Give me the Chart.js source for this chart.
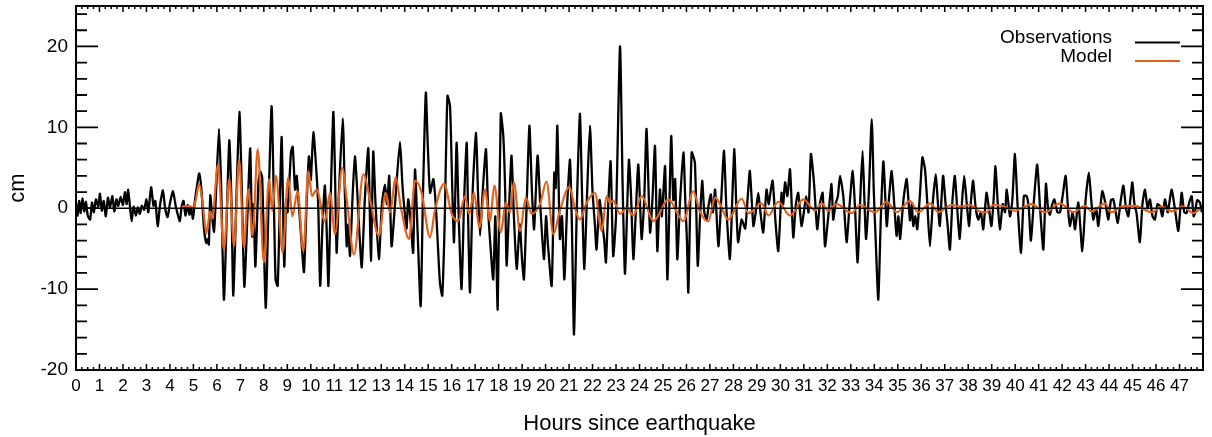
<!DOCTYPE html>
<html>
<head>
<meta charset="utf-8">
<script src="https://cdn.jsdelivr.net/npm/chart.js@4.4.1/dist/chart.umd.min.js"></script>
<style>
  html, body { margin: 0; padding: 0; background: #fff; }
  #wrap { width: 1212px; height: 437px; }
</style>
</head>
<body>
<div id="wrap"><canvas id="c" width="1212" height="437"></canvas></div>
<script>
const seriesLabels = ['Observations', 'Model'];
const seriesColors = ['#000000', '#e4621b'];
const xTitle = 'Hours since earthquake';
const yTitle = 'cm';
const xMin = 0, xMax = 48, yMin = -20, yMax = 25;

const obsHours = [
  0.00,0.07,0.13,0.20,0.27,0.35,0.42,0.50,0.60,0.68,
  0.76,0.85,0.95,1.02,1.10,1.18,1.27,1.36,1.45,1.55,
  1.63,1.72,1.80,1.90,2.00,2.08,2.16,2.22,2.30,2.37,
  2.45,2.55,2.63,2.72,2.80,2.90,3.00,3.08,3.20,3.30,
  3.38,3.48,3.58,3.70,3.80,3.90,4.00,4.13,4.25,4.32,
  4.42,4.50,4.58,4.66,4.75,4.83,4.90,4.98,5.06,5.14,
  5.25,5.35,5.45,5.55,5.62,5.66,5.72,5.80,5.88,5.98,
  6.09,6.18,6.30,6.42,6.53,6.62,6.70,6.84,6.96,7.06,
  7.17,7.30,7.42,7.50,7.56,7.64,7.77,7.85,7.93,8.08,
  8.20,8.33,8.42,8.50,8.59,8.68,8.76,8.87,8.95,9.01,
  9.10,9.16,9.23,9.33,9.40,9.47,9.60,9.71,9.82,9.92,
  10.00,10.11,10.25,10.32,10.40,10.50,10.60,10.68,10.75,10.85,
  10.96,11.04,11.10,11.20,11.36,11.45,11.53,11.60,11.67,11.78,
  11.88,11.98,12.07,12.17,12.30,12.45,12.56,12.66,12.75,12.90,
  13.03,13.16,13.25,13.34,13.44,13.55,13.65,13.80,13.90,14.00,
  14.08,14.15,14.25,14.36,14.44,14.55,14.68,14.78,14.90,14.98,
  15.08,15.22,15.32,15.40,15.50,15.60,15.70,15.82,15.93,16.02,
  16.10,16.21,16.30,16.42,16.53,16.64,16.70,16.78,16.90,17.04,
  17.12,17.21,17.32,17.46,17.55,17.66,17.77,17.86,17.96,18.09,
  18.20,18.28,18.34,18.45,18.55,18.65,18.77,18.90,19.00,19.08,
  19.20,19.31,19.42,19.51,19.66,19.78,19.93,20.02,20.10,20.26,
  20.37,20.43,20.50,20.61,20.70,20.80,20.92,21.04,21.12,21.21,
  21.33,21.46,21.56,21.65,21.77,21.89,22.00,22.10,22.17,22.30,
  22.40,22.50,22.57,22.67,22.77,22.88,23.00,23.17,23.28,23.38,
  23.48,23.55,23.64,23.74,23.85,23.95,24.09,24.20,24.30,24.45,
  24.55,24.66,24.76,24.87,24.95,25.09,25.19,25.35,25.44,25.52,
  25.61,25.72,25.87,25.95,26.02,26.08,26.22,26.36,26.48,26.58,
  26.67,26.76,26.86,26.95,27.04,27.13,27.22,27.36,27.48,27.60,
  27.70,27.85,27.95,28.04,28.12,28.20,28.35,28.50,28.60,28.70,
  28.85,28.95,29.06,29.15,29.27,29.41,29.50,29.58,29.67,29.80,
  29.91,30.05,30.12,30.20,30.30,30.41,30.55,30.66,30.76,30.90,
  31.00,31.10,31.20,31.30,31.43,31.57,31.68,31.80,31.90,32.04,
  32.18,32.25,32.35,32.45,32.54,32.68,32.82,32.95,33.08,33.18,
  33.29,33.40,33.50,33.58,33.65,33.77,33.89,33.98,34.06,34.17,
  34.28,34.39,34.53,34.62,34.74,34.85,34.95,35.03,35.10,35.24,
  35.38,35.52,35.60,35.66,35.75,35.83,35.95,36.05,36.16,36.25,
  36.37,36.50,36.62,36.70,36.79,36.93,37.05,37.12,37.22,37.33,
  37.43,37.53,37.64,37.73,37.83,37.94,38.04,38.12,38.21,38.32,
  38.43,38.54,38.64,38.78,38.88,38.99,39.09,39.16,39.25,39.35,
  39.47,39.57,39.64,39.78,39.88,39.99,40.10,40.25,40.37,40.49,
  40.58,40.67,40.80,40.94,41.06,41.20,41.31,41.40,41.48,41.58,
  41.67,41.80,41.91,42.02,42.15,42.25,42.33,42.45,42.55,42.69,
  42.86,43.00,43.14,43.24,43.33,43.45,43.54,43.71,43.85,43.97,
  44.08,44.18,44.28,44.37,44.50,44.61,44.72,44.82,44.92,44.99,
  45.08,45.17,45.31,45.42,45.53,45.64,45.74,45.85,45.95,46.06,
  46.16,46.27,46.38,46.50,46.66,46.80,46.95,47.09,47.20,47.30,
  47.42,47.52,47.60,47.66,47.75,47.87,47.95
];
const obsValues = [
  0.6,-0.9,0.9,-0.6,1.2,-0.4,0.8,-0.9,-1.4,0.7,
  -0.5,1.1,0.2,1.8,-0.3,0.9,-1.0,1.3,0.1,1.5,
  -0.4,1.1,0.3,1.4,0.4,2.0,0.5,2.3,0.2,-1.6,
  0.2,-0.9,0.1,-0.7,0.3,-0.2,1.1,-0.5,2.6,0.3,
  0.9,-2.2,0.4,2.2,-0.1,-1.1,0.6,2.1,0.2,-0.6,
  -1.6,0.2,0.9,-0.9,0.4,-0.8,0.1,-1.3,0.8,2.5,
  4.3,2.0,-2.5,-4.3,-3.8,-4.5,1.6,-1.2,-2.9,3.0,
  9.8,3.0,-11.3,-1.0,8.4,1.0,-10.8,2.0,11.9,2.5,
  -9.7,-1.0,7.4,-3.5,0.5,-7.2,3.2,4.5,3.8,-12.3,
  0.5,12.6,2.0,-8.8,-9.6,0.5,8.8,-7.2,1.0,-0.5,
  4.0,7.0,7.6,2.3,4.0,1.2,-4.0,-7.9,0.5,6.4,
  3.5,9.4,4.0,0.0,-9.6,-2.0,2.8,-3.0,-9.6,1.5,
  11.9,3.0,-5.5,2.0,11.1,2.0,-4.7,-2.0,-5.9,1.5,
  6.4,2.0,-3.0,-7.3,1.0,7.4,-6.5,7.0,1.0,-6.3,
  0.5,2.9,0.5,4.0,-4.7,-1.0,3.0,8.2,3.0,-0.5,
  -2.5,1.1,-1.5,-5.5,4.8,-3.0,-12.1,2.0,14.3,8.0,
  1.9,3.6,0.5,-3.8,-9.2,-10.8,-2.0,13.9,12.6,3.0,
  -4.2,8.1,-1.0,-10.0,1.0,8.1,-1.0,-10.4,2.5,9.3,
  2.0,-3.4,2.0,7.3,0.0,-5.0,-8.8,-1.0,-12.5,11.7,
  8.9,2.0,-7.1,0.5,6.5,-1.0,-7.5,-2.0,-6.5,-8.8,
  1.0,10.2,2.0,-2.6,6.5,0.0,-6.3,-1.0,-4.5,-9.6,
  4.4,2.5,10.2,-3.8,-1.0,-8.8,0.5,6.0,-2.0,-15.6,
  0.0,11.7,1.0,-7.5,2.0,10.2,2.0,-2.0,-5.1,1.0,
  -1.5,-4.0,-6.7,0.5,5.8,-5.9,-1.0,20.0,3.0,-8.1,
  0.5,6.0,1.5,-6.3,0.0,5.4,-3.8,1.0,9.8,-3.0,
  1.0,7.7,-5.3,2.3,-1.0,5.2,-8.8,8.9,1.0,3.6,
  -6.3,0.5,6.9,1.0,-4.0,-10.4,6.9,5.6,-7.1,-1.0,
  3.4,-0.5,-1.4,0.5,1.7,-0.5,2.3,-4.7,1.0,7.1,
  0.0,-6.3,1.0,7.3,0.5,-4.2,-1.4,-2.5,1.0,4.6,
  -2.2,-0.5,1.9,-0.5,-3.0,2.3,0.5,2.0,3.4,-2.0,
  -5.3,1.9,0.5,3.2,1.5,4.8,-3.6,0.5,1.9,-2.2,
  -0.5,1.5,-0.5,6.7,3.2,-2.6,0.5,1.9,-4.7,-1.0,
  3.0,-1.4,0.5,1.5,4.0,1.5,-4.2,0.5,4.6,0.0,
  -6.7,1.0,7.1,1.0,-3.8,2.0,11.0,2.0,-4.0,-11.3,
  -1.0,5.8,-2.2,1.0,4.6,0.5,-3.4,-1.0,-3.8,1.0,
  3.6,-1.5,0.5,-2.2,-1.0,-2.6,2.0,6.3,4.8,1.0,
  -4.7,1.0,4.2,1.0,-2.2,4.0,0.0,-2.0,-5.1,1.0,
  4.0,0.0,-3.8,0.5,4.0,0.5,-2.2,1.0,3.4,0.0,
  -1.4,-0.5,-2.6,1.9,0.0,-2.2,1.5,5.2,1.0,-2.6,
  0.5,-0.5,2.3,-1.0,1.0,6.7,0.5,-5.5,1.5,1.5,
  0.0,-4.0,1.0,5.4,0.0,-5.1,3.0,0.0,-0.8,0.5,
  1.1,-0.5,-0.5,1.5,4.0,0.0,-2.2,-0.5,-2.6,0.7,
  -5.3,1.0,4.4,1.0,-1.4,0.0,-2.2,2.1,0.5,-1.4,
  1.0,1.1,-0.5,-1.8,1.0,2.8,0.0,-1.0,1.5,3.2,
  0.5,-0.6,-4.2,0.5,2.3,0.0,1.1,-1.0,-1.4,0.5,
  0.3,-1.0,1.1,-0.5,2.3,0.0,-2.8,1.9,-0.5,-0.6,
  0.8,1.5,-1.0,-0.6,1.0,0.7,-0.5
];

const modelHours = [
  4.50,4.80,5.00,5.10,5.24,5.40,5.55,5.72,5.80,6.05,
  6.30,6.53,6.73,6.95,7.15,7.34,7.52,7.74,8.00,8.22,
  8.36,8.52,8.80,9.04,9.21,9.44,9.68,9.90,10.05,10.25,
  10.60,10.82,11.03,11.34,11.53,11.84,12.24,12.52,12.90,13.19,
  13.37,13.62,13.83,14.19,14.44,14.72,15.08,15.29,15.68,16.00,
  16.28,16.57,16.75,16.95,17.18,17.42,17.63,17.82,18.09,18.31,
  18.48,18.65,18.91,19.16,19.40,19.76,20.04,20.33,20.61,21.01,
  21.25,21.46,21.75,22.10,22.39,22.60,22.74,22.88,23.17,23.45,
  23.74,24.09,24.59,25.23,25.87,26.29,26.57,26.93,27.22,27.43,
  27.78,28.35,28.64,29.20,29.49,29.91,30.41,30.98,31.47,31.76,
  32.04,32.40,33.03,33.39,34.03,34.53,34.95,35.52,35.87,36.39,
  36.72,37.29,37.70,38.07,38.50,38.78,39.07,39.42,39.99,40.70,
  41.27,41.91,42.48,42.97,43.26,43.82,44.10,44.53,45.10,45.81,
  46.24,46.66,47.16,47.59,47.90
];
const modelValues = [
  0.2,0.3,0.1,1.0,3.0,0.5,-3.1,-0.4,-1.3,5.4,
  -5.1,3.6,-4.7,6.0,-4.8,2.3,-3.4,7.3,-6.7,3.6,
  -0.3,4.0,-5.5,3.8,-1.0,2.1,-5.3,4.6,1.5,2.3,
  -1.6,1.9,-3.2,5.0,1.1,-5.7,4.2,1.1,-3.4,1.9,
  -0.5,3.8,0.2,-3.8,3.4,1.9,-3.6,-0.2,3.0,-0.7,
  -1.6,1.5,-0.7,1.9,-2.4,2.3,-1.6,2.8,-3.0,0.7,
  -0.5,3.2,-2.8,1.3,-0.7,0.5,3.3,-3.2,-0.3,2.6,
  0.0,-1.4,0.7,1.9,-2.8,1.5,0.7,0.9,-0.7,0.0,
  -0.9,1.5,-1.6,1.1,-1.6,2.1,-0.4,-1.6,1.3,0.5,
  -1.4,1.2,-0.6,0.6,-0.9,0.8,-0.9,1.1,-0.3,0.6,
  -0.3,0.5,-0.6,0.4,-0.5,0.8,-0.5,0.9,-0.5,0.6,
  -0.5,0.4,0.2,0.4,-0.4,-0.5,0.4,0.3,-0.3,0.5,
  -0.5,0.6,-0.5,0.3,-0.4,0.6,-0.5,0.2,0.3,-0.5,
  0.2,-0.4,0.2,-0.6,0.0
];

const FONT = "'Liberation Sans', Arial, Helvetica, sans-serif";

const toPoints = (xs, ys) => xs.map((h, i) => ({ x: h, y: ys[i] }));

const idlFrame = {
  id: 'idlFrame',
  afterDatasetsDraw(chart) {
    const { ctx, chartArea: a, scales: { x, y } } = chart;
    ctx.save();
    ctx.strokeStyle = '#000';
    // zero line
    ctx.lineWidth = 1.6;
    const y0 = y.getPixelForValue(0);
    ctx.beginPath(); ctx.moveTo(a.left, y0); ctx.lineTo(a.right, y0); ctx.stroke();
    // frame
    ctx.lineWidth = 2;
    ctx.strokeRect(a.left, a.top, a.right - a.left, a.bottom - a.top);
    // x ticks (bottom & top, inward)
    ctx.lineWidth = 1.5;
    ctx.beginPath();
    for (let i = xMin * 4; i <= xMax * 4; i++) {
      const px = x.getPixelForValue(i / 4);
      const len = (i % 4 === 0) ? 6 : 3;
      ctx.moveTo(px, a.bottom); ctx.lineTo(px, a.bottom - len);
      ctx.moveTo(px, a.top); ctx.lineTo(px, a.top + len);
    }
    ctx.stroke();
    // y ticks (left & right, inward)
    ctx.lineWidth = 1.8;
    ctx.beginPath();
    for (let v = yMin; v <= yMax; v += 2) {
      const py = y.getPixelForValue(v);
      const len = (v % 10 === 0) ? 22 : 11;
      ctx.moveTo(a.left, py); ctx.lineTo(a.left + len, py);
      ctx.moveTo(a.right, py); ctx.lineTo(a.right - len, py);
    }
    ctx.stroke();
    // legend
    ctx.font = '19px ' + FONT;
    ctx.fillStyle = '#000';
    ctx.textAlign = 'right';
    ctx.textBaseline = 'alphabetic';
    const rows = [43, 61.5];
    chart.data.datasets.forEach((ds, i) => {
      ctx.fillText(ds.label, 1112, rows[i]);
      ctx.strokeStyle = ds.borderColor;
      ctx.lineWidth = 2;
      ctx.beginPath(); ctx.moveTo(1135, rows[i] - 0.5); ctx.lineTo(1180, rows[i] - 0.5); ctx.stroke();
    });
    ctx.restore();
  }
};

new Chart(document.getElementById('c'), {
  type: 'line',
  data: {
    datasets: [
      { label: seriesLabels[0], data: toPoints(obsHours, obsValues), borderColor: seriesColors[0],
        borderWidth: 2.3, pointRadius: 0, tension: 0.2, order: 2 },
      { label: seriesLabels[1], data: toPoints(modelHours, modelValues), borderColor: seriesColors[1],
        borderWidth: 2.2, pointRadius: 0, cubicInterpolationMode: 'monotone', order: 1 }
    ]
  },
  options: {
    responsive: false,
    animation: false,
    devicePixelRatio: 1,
    layout: { padding: { left: 0, right: 9, top: 6, bottom: 0 } },
    plugins: { legend: { display: false }, tooltip: { enabled: false } },
    scales: {
      x: {
        type: 'linear', min: xMin, max: xMax,
        afterFit(s) { s.height = 67; s.paddingLeft = 0; s.paddingRight = 0; },
        grid: { display: false, drawTicks: false },
        border: { display: false },
        ticks: {
          stepSize: 1, autoSkip: false, maxRotation: 0, padding: 6, color: '#000',
          font: { family: FONT, size: 17 },
          callback: v => (v < xMax ? String(v) : '')
        },
        title: { display: true, text: xTitle, color: '#000', font: { family: FONT, size: 22 },
          padding: { top: 0, bottom: 0 } }
      },
      y: {
        type: 'linear', min: yMin, max: yMax,
        afterFit(s) { s.width = 76; s.paddingTop = 0; s.paddingBottom = 0; },
        grid: { display: false, drawTicks: false },
        border: { display: false },
        ticks: {
          stepSize: 10, padding: 8, color: '#000',
          font: { family: FONT, size: 19 },
          callback: v => (v % 10 === 0 && v <= 20 ? String(v) : '')
        },
        title: { display: true, text: yTitle, color: '#000', font: { family: FONT, size: 22 },
          padding: { top: 5, bottom: 0 } }
      }
    }
  },
  plugins: [idlFrame]
});
</script>
</body>
</html>
